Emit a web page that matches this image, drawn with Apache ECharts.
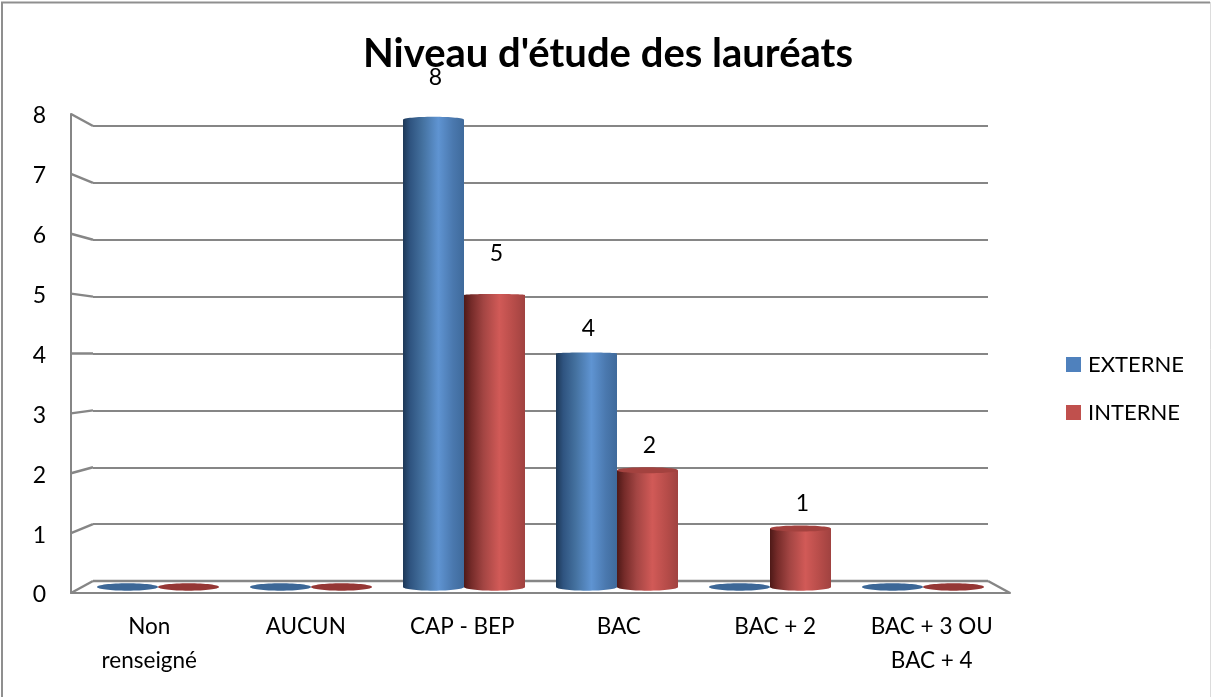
<!DOCTYPE html>
<html><head><meta charset="utf-8">
<style>html,body{margin:0;padding:0;background:#fff}#c{width:1211px;height:697px}</style>
<script src="https://cdn.jsdelivr.net/npm/echarts@6/dist/echarts.min.js"></script>
</head><body><div id="c"></div>
<script>
const categories = ['Non\nrenseigné', 'AUCUN', 'CAP - BEP', 'BAC', 'BAC + 2', 'BAC + 3 OU\nBAC + 4'];
const externe = [0, 0, 8, 4, 0, 0];
const interne = [0, 0, 5, 2, 1, 0];
const yTicks = [0, 1, 2, 3, 4, 5, 6, 7, 8];
const title = "Niveau d'étude des lauréats";

const FONT = 'Lato';
const LINE = '#868686';
const FRONT = {left: 71, top: 114, width: 939, height: 479};
const BACK = {left: 93, top: 126, width: 895, height: 455};
const BARS = {left: 81.5, top: 119.8, width: 918, height: 467.2};
const BAR_W = 61;

const palettes = {
  EXTERNE: {legend: '#4f81bd', flat: '#3c6797', cap: '#3c6797',
    stops: [[0, '#1d3857'], [0.12, '#2f5480'], [0.32, '#44719f'], [0.58, '#5f94d2'], [0.82, '#4a78ae'], [1, '#3f6a9b']]},
  INTERNE: {legend: '#c0504d', flat: '#953735', cap: '#a3423f',
    stops: [[0, '#4e1917'], [0.12, '#752b29'], [0.32, '#a34543'], [0.58, '#d15a57'], [0.82, '#b64c49'], [1, '#a04240']]}
};

function gradient(p) {
  return new echarts.graphic.LinearGradient(0, 0, 1, 0, p.stops.map(s => ({offset: s[0], color: s[1]})));
}

function barRender(name, side) {
  const p = palettes[name];
  return function (params, api) {
    const v = api.value(1);
    const c = api.coord([api.value(0), v]);
    const base = api.coord([api.value(0), 0]);
    const cx = c[0] + side * BAR_W / 2;
    const x = cx - BAR_W / 2;
    const rx = BAR_W / 2;
    if (v === 0) {
      return {type: 'ellipse', shape: {cx: cx, cy: base[1], rx: rx, ry: 3.7}, style: {fill: p.flat}};
    }
    const fill = gradient(p);
    const capRy = v >= 8 ? 3 : (v <= 2 ? 3 : 1);
    const lift = v >= 5 ? (v >= 8 ? 42 : 41) : 25;
    const kids = [
      {type: 'ellipse', shape: {cx: cx, cy: base[1], rx: rx, ry: 3.7}, style: {fill: fill}},
      {type: 'rect', shape: {x: x, y: c[1], width: BAR_W, height: base[1] - c[1]}, style: {fill: fill}},
      {type: 'ellipse', shape: {cx: cx, cy: c[1], rx: rx, ry: capRy},
        style: {fill: v <= 2 ? p.cap : fill}},
      {type: 'text', x: cx + 2, y: c[1] - lift,
        style: {text: String(v), font: '23px ' + FONT, fill: '#000', align: 'center', verticalAlign: 'middle'}}
    ];
    return {type: 'group', children: kids};
  };
}

function frameRender(params, api) {
  const v = api.value(0);
  const sys = params.coordSys;
  const fy = api.coord([0, v])[1];
  const by = BACK.top + BACK.height - v / 8 * BACK.height;
  const st = {stroke: LINE, lineWidth: 2.5, fill: null};
  const kids = [{type: 'line', shape: {x1: sys.x, y1: fy, x2: BACK.left, y2: by}, style: st}];
  if (v === 0) {
    kids.push({type: 'line', shape: {x1: sys.x + sys.width, y1: fy, x2: BACK.left + BACK.width, y2: by}, style: st});
    kids.push({type: 'line', shape: {x1: BACK.left, y1: by, x2: BACK.left + BACK.width, y2: by}, style: st});
  }
  return {type: 'group', children: kids};
}

const chart = echarts.init(document.getElementById('c'), null, {renderer: 'canvas'});
chart.setOption({
  animation: false,
  backgroundColor: '#fff',
  title: {
    text: title, left: 603, top: 29, textAlign: 'center',
    textStyle: {fontFamily: FONT, fontWeight: 'bold', fontSize: 40, color: '#000'}
  },
  legend: {
    orient: 'vertical', left: 1066, top: 353.5, padding: 0, itemWidth: 15, itemHeight: 15, itemGap: 26, icon: 'rect',
    data: ['EXTERNE', 'INTERNE'],
    textStyle: {fontFamily: FONT, fontSize: 22, color: '#000', lineHeight: 15, padding: [0, 0, 0, 2]}
  },
  grid: [
    Object.assign({}, FRONT),
    Object.assign({}, BACK),
    Object.assign({}, BARS)
  ],
  xAxis: [
    {gridIndex: 0, type: 'category', data: categories, boundaryGap: true,
      axisLine: {show: true, lineStyle: {color: LINE, width: 2}}, axisTick: {show: false},
      axisLabel: {margin: 17, fontFamily: FONT, fontSize: 22.5, color: '#000', lineHeight: 34, interval: 0}},
    {gridIndex: 1, type: 'value', min: 0, max: 1, show: false, splitLine: {show: false}},
    {gridIndex: 2, type: 'category', data: categories, show: false}
  ],
  yAxis: [
    {gridIndex: 0, type: 'value', min: 0, max: 8, interval: 1,
      axisLine: {show: true, lineStyle: {color: LINE, width: 2}}, axisTick: {show: false}, splitLine: {show: false},
      axisLabel: {margin: 25, fontFamily: FONT, fontSize: 23, color: '#000', verticalAlign: 'top', lineHeight: 4}},
    {gridIndex: 1, type: 'value', min: 0, max: 8, interval: 1,
      axisLine: {show: false}, axisTick: {show: false}, axisLabel: {show: false},
      splitLine: {show: true, lineStyle: {color: LINE, width: 2}}},
    {gridIndex: 2, type: 'value', min: 0, max: 8, show: false, splitLine: {show: false}}
  ],
  series: [
    {type: 'custom', xAxisIndex: 0, yAxisIndex: 0, z: 1, silent: true, clip: false,
      data: yTicks.map(v => [v]), encode: {y: 0}, renderItem: frameRender},
    {type: 'custom', name: 'EXTERNE', xAxisIndex: 2, yAxisIndex: 2, z: 3, clip: false,
      itemStyle: {color: palettes.EXTERNE.legend},
      data: categories.map((c, i) => [i, externe[i]]), encode: {x: 0, y: 1}, renderItem: barRender('EXTERNE', -1)},
    {type: 'custom', name: 'INTERNE', xAxisIndex: 2, yAxisIndex: 2, z: 3, clip: false,
      itemStyle: {color: palettes.INTERNE.legend},
      data: categories.map((c, i) => [i, interne[i]]), encode: {x: 0, y: 1}, renderItem: barRender('INTERNE', 1)}
  ],
  graphic: [
    {type: 'polyline', silent: true, shape: {points: [[2, 697], [2, 2.5], [1210, 2.5]]},
      style: {stroke: '#8f8f8f', lineWidth: 2, fill: null}},
    {type: 'line', silent: true, shape: {x1: 1210.5, y1: 2, x2: 1210.5, y2: 697},
      style: {stroke: '#dcdcdc', lineWidth: 1}}
  ]
});
</script></body></html>
